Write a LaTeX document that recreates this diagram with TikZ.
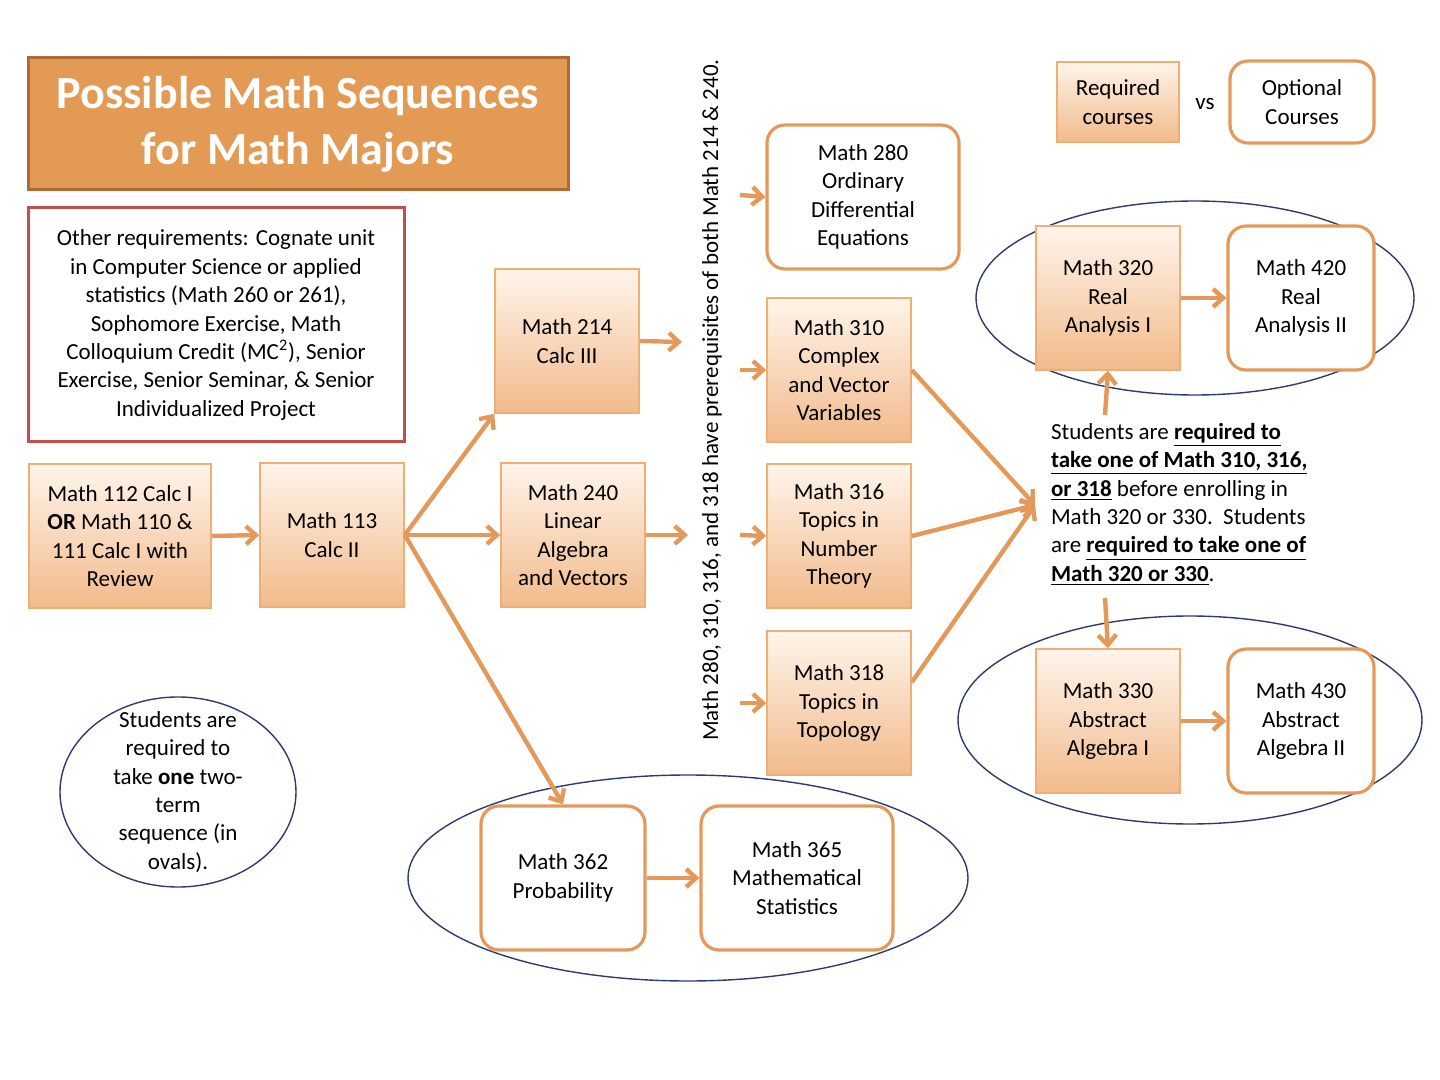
\documentclass[tikz,border=0pt]{standalone}
\usepackage{fontspec}
\setmainfont{Carlito}
\usetikzlibrary{arrows.meta}
\definecolor{org}{HTML}{E3995A}
\definecolor{orgb}{HTML}{EFAE76}
\definecolor{navy}{HTML}{2E3B6E}
\definecolor{redb}{HTML}{C0504D}
\definecolor{titlef}{HTML}{E29A55}
\definecolor{titleb}{HTML}{B06A35}
\begin{document}
\begin{tikzpicture}[x=0.5pt,y=-0.5pt,
  txt/.style={font=\fontsize{11.5}{14.2}\selectfont,align=center},
  req/.style={txt,draw=orgb,line width=0.8pt,top color=orange!8,bottom color=orgb!85,inner sep=0pt},
  opt/.style={txt,draw=org,line width=1.6pt,fill=white,rounded corners=9pt,inner sep=0pt},
  ov/.style={draw=navy,line width=0.7pt},
  ar/.style={draw=org,line width=2.2pt,-{Straight Barb[length=5pt,width=9pt,line width=2.2pt]}}]
\useasboundingbox (0,0) rectangle (1440,1080);
\newcommand{\bx}[6]{\node[#1,minimum width=#4*0.5pt-#2*0.5pt,minimum height=#5*0.5pt-#3*0.5pt] (#6) at ({(#2+#4)/2},{(#3+#5)/2}) {\phantom{x}};}
% ellipses
\draw[ov] (1195,298) ellipse [x radius=219,y radius=97];
\draw[ov] (1190,720) ellipse [x radius=232,y radius=104];
\draw[ov] (688,878) ellipse [x radius=280,y radius=103];
\draw[ov] (178,792) ellipse [x radius=118,y radius=95];
% title
\node[draw=titleb,fill=titlef,line width=1.5pt,minimum width=270pt,minimum height=66pt,text=white,font=\fontsize{23}{28}\bfseries\selectfont,align=center] (title) at (298,124) {Possible Math Sequences\\for Math Majors};
\node[draw=redb,line width=1.5pt,minimum width=188pt,minimum height=117pt,txt] (other) at (216,325) {Other requirements: Cognate unit\\in Computer Science or applied\\statistics (Math 260 or 261),\\Sophomore Exercise, Math\\Colloquium Credit (MC\textsuperscript{2}), Senior\\Exercise, Senior Seminar, \& Senior\\Individualized Project};
% legend
\node[req,minimum width=61pt,minimum height=40pt] (rq) at (1118,102) {Required\\courses};
\node[txt] (vs) at (1205,104) {vs};
\node[opt,minimum width=72pt,minimum height=41pt] (op) at (1302,102) {Optional\\Courses};
% boxes
\node[req,minimum width=91pt,minimum height=72pt] (m112) at (120,536) {Math 112 Calc I\\\textbf{OR} Math 110 \&\\111 Calc I with\\Review};
\node[req,minimum width=72pt,minimum height=72pt] (m113) at (332,535) {Math 113\\Calc II};
\node[req,minimum width=72pt,minimum height=72pt] (m214) at (567,341) {Math 214\\Calc III};
\node[req,minimum width=72pt,minimum height=72pt] (m240) at (573,535) {Math 240\\Linear\\Algebra\\and Vectors};
\node[opt,minimum width=96pt,minimum height=72pt] (m280) at (863,197) {Math 280\\Ordinary\\Differential\\Equations};
\node[req,minimum width=72pt,minimum height=72pt] (m310) at (839,370) {Math 310\\Complex\\and Vector\\Variables};
\node[req,minimum width=72pt,minimum height=72pt] (m316) at (839,536) {Math 316\\Topics in\\Number\\Theory};
\node[req,minimum width=72pt,minimum height=72pt] (m318) at (839,703) {Math 318\\Topics in\\Topology};
\node[req,minimum width=72pt,minimum height=72pt] (m320) at (1108,298) {Math 320\\Real\\Analysis I};
\node[opt,minimum width=73pt,minimum height=72pt] (m420) at (1301,298) {Math 420\\Real\\Analysis II};
\node[req,minimum width=72pt,minimum height=72pt] (m330) at (1108,721) {Math 330\\Abstract\\Algebra I};
\node[opt,minimum width=73pt,minimum height=72pt] (m430) at (1301,721) {Math 430\\Abstract\\Algebra II};
\node[opt,minimum width=82pt,minimum height=72pt] (m362) at (563,878) {Math 362\\Probability};
\node[opt,minimum width=96pt,minimum height=72pt] (m365) at (797,878) {Math 365\\Mathematical\\Statistics};
% side texts
\node[txt,rotate=90] (pre) at (712,400) {Math 280, 310, 316, and 318 have prerequisites of both Math 214 \& 240.};
\node[txt] (oval) at (178,792) {Students are\\required to\\take \textbf{one} two-\\term\\sequence (in\\ovals).};
\node[txt,align=left,anchor=north west] (note) at (1044,416) {Students are \textbf{\underline{required to}}\\\textbf{\underline{take one of Math 310, 316,}}\\\textbf{\underline{or 318}} before enrolling in\\Math 320 or 330.\ \ Students\\are \textbf{\underline{required to take one of}}\\\textbf{\underline{Math 320 or 330}}.};
% coordinates
\coordinate (j) at (1035,505);
\coordinate (a214) at (682,342);
\coordinate (a240) at (688,535);
\coordinate (s280) at (740,195);
\coordinate (s310) at (740,370);
\coordinate (s316) at (740,535);
\coordinate (s318) at (740,703);
\coordinate (nt) at (1105,415);
\coordinate (nb) at (1105,598);
% arrows
\draw[ar] (m112.east) -- (m113.west);
\draw[ar] (m113.east) -- (m214.south west);
\draw[ar] (m113.east) -- (m240.west);
\draw[ar] (m113.east) -- (m362.north);
\draw[ar] (m214.east) -- (a214);
\draw[ar] (m240.east) -- (a240);
\draw[ar] (s280) -- (m280.west);
\draw[ar] (s310) -- (m310.west);
\draw[ar] (s316) -- (m316.west);
\draw[ar] (s318) -- (m318.west);
\draw[ar] (m310.east) -- (j);
\draw[ar] (m316.east) -- (j);
\draw[ar] ([yshift=-26pt]m318.north east) -- (j);
\draw[ar] (nt) -- (m320.south);
\draw[ar] (nb) -- (m330.north);
\draw[ar] (m320.east) -- (m420.west);
\draw[ar] (m330.east) -- (m430.west);
\draw[ar] (m362.east) -- (m365.west);
\end{tikzpicture}
\end{document}
